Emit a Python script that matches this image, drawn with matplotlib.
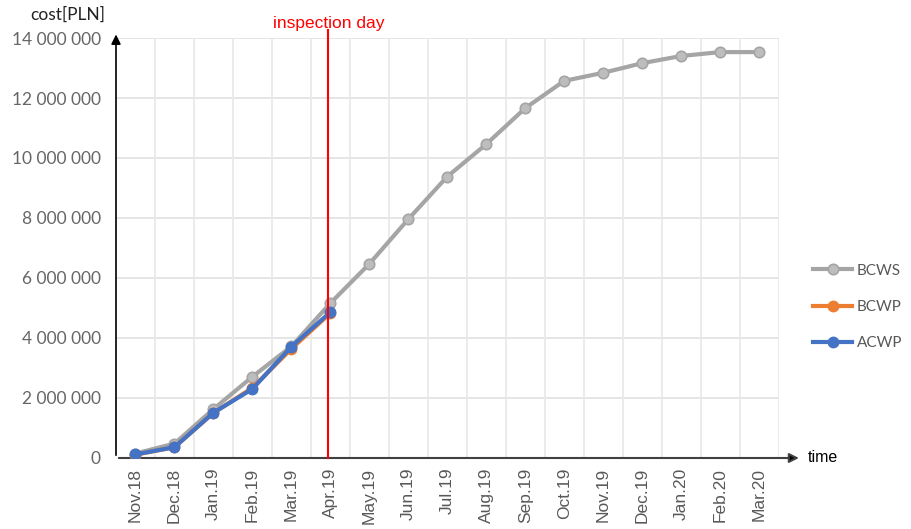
import numpy as np
import matplotlib.pyplot as plt
from matplotlib.ticker import FuncFormatter

months = ['Nov.18', 'Dec.18', 'Jan.19', 'Feb.19', 'Mar.19', 'Apr.19', 'May.19', 'Jun.19',
          'Jul.19', 'Aug.19', 'Sep.19', 'Oct.19', 'Nov.19', 'Dec.19', 'Jan.20', 'Feb.20', 'Mar.20']

# planned / earned / actual cost [PLN]
bcws = [150000, 480000, 1630000, 2710000, 3720000, 5160000, 6470000, 7960000, 9380000,
        10460000, 11660000, 12570000, 12840000, 13160000, 13400000, 13530000, 13530000]
bcwp = [110000, 360000, 1500000, 2340000, 3640000, 4830000]
acwp = [120000, 360000, 1510000, 2300000, 3710000, 4860000]

inspection_idx = 4.95

def fmt_space(v, pos):
    return '{:,.0f}'.format(v).replace(',', ' ')

plt.rcParams['font.family'] = ['Lato', 'DejaVu Sans']

fig = plt.figure(figsize=(9.12, 5.29), dpi=100)
W, H = 912.0, 529.0
ax = fig.add_axes([116 / W, (H - 458) / H, (778.5 - 116) / W, 420 / H])

x = np.arange(len(months))
ax.plot(x, bcws, color='#A5A5A5', lw=3, marker='o', ms=7.5,
        mfc='#BDBDBD', mec='#A5A5A5', mew=1.2, label='BCWS', zorder=3)
ax.plot(x[:len(bcwp)], bcwp, color='#ED7D31', lw=3, marker='o', ms=7.5,
        mfc='#ED7D31', mec='#ED7D31', label='BCWP', zorder=4)
ax.plot(x[:len(acwp)], acwp, color='#4472C4', lw=3, marker='o', ms=7.5,
        mfc='#4472C4', mec='#4472C4', label='ACWP', zorder=5)

ax.set_xlim(-0.5, len(months) - 0.5)
ax.set_ylim(0, 14000000)
ax.set_yticks(np.arange(0, 14000001, 2000000))
ax.yaxis.set_major_formatter(FuncFormatter(fmt_space))
ax.set_xticks(x)
ax.set_xticklabels(months, rotation=90, family=['Liberation Sans'], fontsize=12.5, color='#595959')
ax.tick_params(axis='y', length=0, pad=11, labelsize=12.5, labelcolor='#666666')
ax.tick_params(axis='x', length=0, pad=7)

# grid: horizontal on ticks, vertical between categories
for yv in np.arange(2000000, 14000001, 2000000):
    ax.axhline(yv, color='#E0E0E0', lw=1.2, zorder=0)
for xv in np.arange(-0.5, len(months), 1.0)[1:]:
    ax.axvline(xv, color='#E8E8E8', lw=1.2, zorder=0)

for s in ax.spines.values():
    s.set_visible(False)

# axes arrows
ax.annotate('', xy=(0, 1.015), xytext=(0, 0), xycoords='axes fraction',
            arrowprops=dict(arrowstyle='-|>', color='black', lw=1.2, mutation_scale=14),
            annotation_clip=False)
ax.annotate('', xy=(1.035, 0), xytext=(0, 0), xycoords='axes fraction',
            arrowprops=dict(arrowstyle='-|>', color='#404040', lw=1.5, mutation_scale=14,
                            fc='black'),
            annotation_clip=False)

# inspection day
ax.axvline(inspection_idx, ymin=0, ymax=1.02, color='red', lw=1.5, clip_on=False, zorder=6)
ax.text(inspection_idx, 1.035, 'inspection day', transform=ax.get_xaxis_transform(),
        ha='center', va='center', color='red', fontsize=12.5, family=['Liberation Sans'])

fig.text(30 / W, 1 - 15 / H, 'cost[PLN]', ha='left', va='center', fontsize=12.5, color='#222222')
fig.text(808 / W, 1 - 457 / H, 'time', ha='left', va='center', fontsize=11.5,
         family=['Liberation Sans'], color='black')

fig.legend(loc='upper left', bbox_to_anchor=(799 / W, 1 - 250 / H), frameon=False,
           handlelength=2.6, labelspacing=1.45, handletextpad=0.3, fontsize=11,
           labelcolor='#595959')

fig.savefig('out.png', dpi=100)
